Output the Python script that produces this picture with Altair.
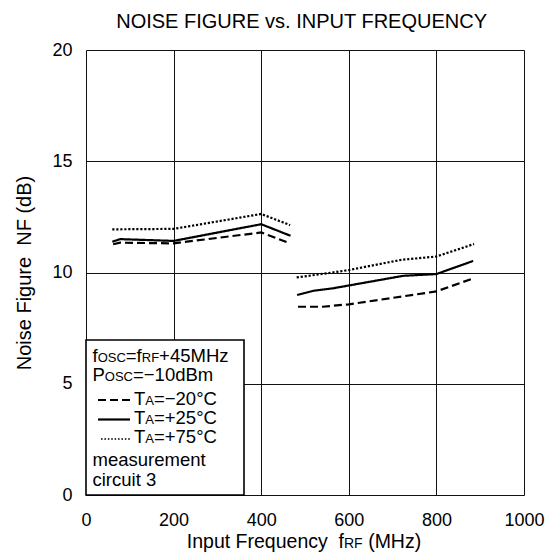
import altair as alt
import pandas as pd

FONT = "Liberation Sans"
NB = "\u00a0"

# ---- data ----
series_names = ["TA=-20°C", "TA=+25°C", "TA=+75°C"]

freq_m20_a = [62, 78, 200, 400, 459]
nf_m20_a = [11.27, 11.34, 11.31, 11.80, 11.36]
freq_m20_b = [484, 540, 600, 700, 800, 879]
nf_m20_b = [8.46, 8.46, 8.57, 8.86, 9.15, 9.70]

freq_p25_a = [60, 78, 200, 400, 467]
nf_p25_a = [11.38, 11.50, 11.42, 12.17, 11.65]
freq_p25_b = [482, 520, 564, 724, 800, 884]
nf_p25_b = [8.99, 9.18, 9.29, 9.85, 9.93, 10.52]

freq_p75_a = [60, 200, 400, 466]
nf_p75_a = [11.94, 11.96, 12.63, 12.13]
freq_p75_b = [481, 549, 600, 720, 800, 886]
nf_p75_b = [9.78, 9.96, 10.11, 10.57, 10.72, 11.28]

x_ticks = [0, 200, 400, 600, 800, 1000]
y_ticks = [0, 5, 10, 15, 20]

rows = []
for name, segs in [
    (series_names[0], [(freq_m20_a, nf_m20_a), (freq_m20_b, nf_m20_b)]),
    (series_names[1], [(freq_p25_a, nf_p25_a), (freq_p25_b, nf_p25_b)]),
    (series_names[2], [(freq_p75_a, nf_p75_a), (freq_p75_b, nf_p75_b)]),
]:
    for si, (fx, fy) in enumerate(segs):
        for i, (a, b) in enumerate(zip(fx, fy)):
            rows.append({"series": name, "seg": f"{name}-{si}", "freq": a, "nf": b, "i": i})
df = pd.DataFrame(rows)

W_PLOT, H_PLOT = 438, 445

lines = alt.Chart(df).mark_line(color="black", strokeWidth=2.2).encode(
    x=alt.X("freq:Q", scale=alt.Scale(domain=[0, 1000], nice=False),
            axis=alt.Axis(values=x_ticks, format="d", title=None, grid=True,
                          gridColor="#111", gridWidth=1, domain=False, ticks=False,
                          tickSize=0, labelFont=FONT, labelFontSize=18,
                          labelColor="black", labelBaseline="alphabetic",
                          labelPadding=30, labelFlush=False)),
    y=alt.Y("nf:Q", scale=alt.Scale(domain=[0, 20], nice=False),
            axis=alt.Axis(values=y_ticks, title=f"Noise Figure{NB}{NB}NF (dB)",
                          grid=True, gridColor="#111", gridWidth=1, domain=False,
                          ticks=False, tickSize=0, labelFont=FONT, labelFontSize=18,
                          labelColor="black", labelPadding=14, labelFlush=False,
                          titleFont=FONT, titleFontSize=20, titleFontWeight="normal",
                          titleColor="black", titleX=-52, titleY=222.5,
                          titleAngle=270, titleAlign="center", titleBaseline="bottom")),
    detail="seg:N",
    order="i:Q",
    strokeDash=alt.StrokeDash("series:N",
                              scale=alt.Scale(domain=series_names,
                                              range=[[8, 4], [1, 0], [2.2, 1.8]]),
                              legend=None),
)

one = pd.DataFrame({"a": [0]})

# Arial / Liberation Sans advance widths (per 1000 em)
WID = {' ': 278, NB: 278, 'f': 278, '=': 584, '+': 584, '−': 584, '0': 556, '1': 556,
       '2': 556, '3': 556, '4': 556, '5': 556, '7': 556, 'M': 833, 'H': 722, 'z': 500,
       'P': 667, 'd': 556, 'B': 667, 'm': 833, 'T': 611, 'A': 667, '°': 400, 'C': 722,
       'O': 778, 'S': 667, 'R': 722, 'F': 611, 'I': 278, 'n': 556, 'p': 556, 'u': 556,
       't': 278, 'r': 333, 'e': 556, 'q': 556, 'c': 500, 'y': 500, '(': 333, ')': 333,
       'i': 222, 'a': 556, 's': 500}


def tw(s, size):
    return sum(WID.get(c, 556) for c in s) * size / 1000.0


def run(pieces, x0, y):
    """pieces: (text, fontsize, gap_before)"""
    out = []
    x = x0
    for text, size, gap in pieces:
        x += gap
        out.append(alt.Chart(one).mark_text(text=text, font=FONT, fontSize=size,
                                            align="left", baseline="alphabetic",
                                            color="black")
                   .encode(x=alt.value(x), y=alt.value(y)))
        x += tw(text, size)
    return out


M, S = 18.5, 13

legend_box = alt.Chart(one).mark_rect(fill="white", stroke="black", strokeWidth=1.6).encode(
    x=alt.value(0), x2=alt.value(158), y=alt.value(290), y2=alt.value(445))

sample_dash = alt.Chart(one).mark_rule(color="black", strokeWidth=2.2, strokeDash=[8, 4]).encode(
    x=alt.value(12), x2=alt.value(44), y=alt.value(350))
sample_solid = alt.Chart(one).mark_rule(color="black", strokeWidth=2.2).encode(
    x=alt.value(12), x2=alt.value(44), y=alt.value(369.5))
sample_dot = alt.Chart(one).mark_rule(color="black", strokeWidth=1.6, strokeDash=[1.6, 1.8]).encode(
    x=alt.value(15), x2=alt.value(44), y=alt.value(389))

legend_text = []
legend_text += run([("f", M, 0), ("OSC", S, 0), ("=f", M, 0), ("RF", S, 0), ("+45MHz", M, 0)], 6.5, 312)
legend_text += run([("P", M, 0), ("OSC", S, 0), ("=−10dBm", M, 0)], 6.5, 331)
legend_text += run([("T", M, 0), ("A", S, 0), ("=−20°C", M, 0)], 48, 355)
legend_text += run([("T", M, 0), ("A", S, 0), ("=+25°C", M, 0)], 48, 374)
legend_text += run([("T", M, 0), ("A", S, 0), ("=+75°C", M, 0)], 48, 393)
legend_text += run([("measurement", M, 0)], 6.5, 416)
legend_text += run([("circuit 3", M, 0)], 6.5, 436)

# x-axis title with small "RF"
TM, TS = 19.5, 14
GAP = 5.5
xt_pieces = [(f"Input Frequency{NB}{NB}f", TM, 0), ("RF", TS, 0), ("(MHz)", TM, GAP)]
xt_total = sum(tw(t, s) + g for t, s, g in xt_pieces)
xt_start = (304 - 86) - xt_total / 2
x_title = run(xt_pieces, xt_start, 498)

title = alt.Chart(one).mark_text(text="NOISE FIGURE vs. INPUT FREQUENCY", font=FONT,
                                 fontSize=20, align="center", baseline="alphabetic",
                                 color="black").encode(x=alt.value(215.6), y=alt.value(-22.4))

chart = alt.layer(lines, legend_box, sample_dash, sample_solid, sample_dot,
                  *legend_text, *x_title, title).properties(
    width=W_PLOT, height=H_PLOT,
    autosize=alt.AutoSizeParams(type="none"),
    padding={"left": 86, "top": 50, "right": 27, "bottom": 64},
    background="white",
).configure_view(stroke="black", strokeWidth=1.8).configure(font=FONT)

chart.save("out.html", embed_options={"renderer": "svg", "actions": False})
